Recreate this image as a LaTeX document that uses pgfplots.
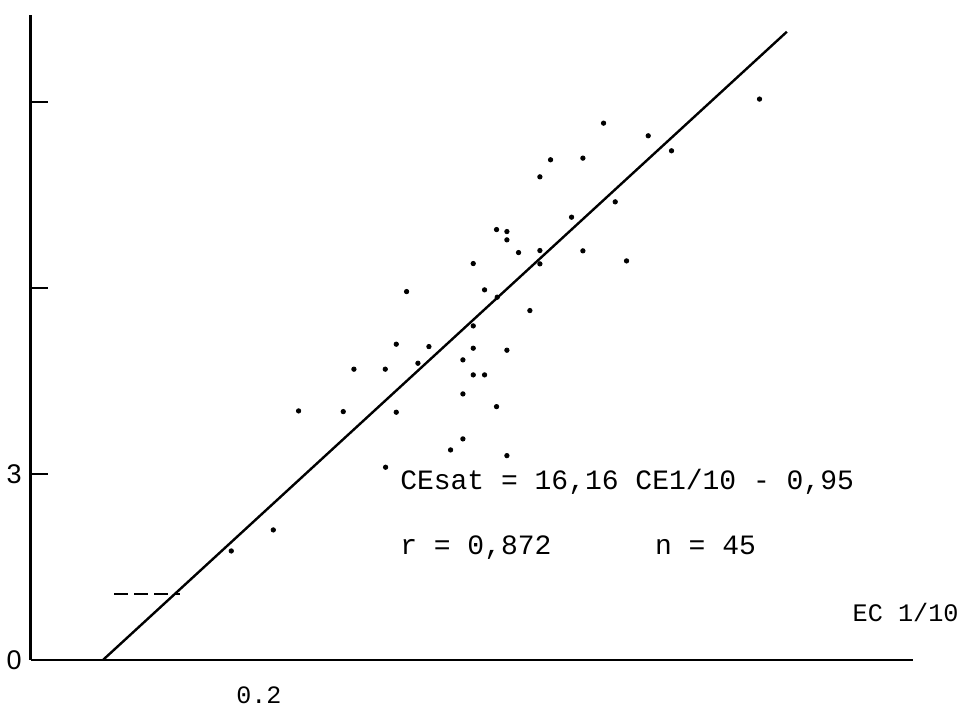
\documentclass[border=0pt]{standalone}
\usepackage{fontspec}
\setmainfont{Liberation Sans}
\setmonofont{Liberation Mono}
\usepackage{pgfplots}
\pgfplotsset{compat=1.18}

% scatter points (EC 1/10 vs CEsat)
\pgfplotstableread{
x      y
0.5188 8.656
0.4706 8.065
0.5000 8.092
0.4609 7.790
0.5294 7.387
0.4897 7.140
0.4215 6.940
0.4309 6.908
0.4309 6.774
0.4415 6.569
0.4609 6.602
0.4609 6.387
0.5000 6.597
0.5397 6.435
0.4003 6.392
0.4106 5.968
0.3397 5.940
0.6606 9.044
0.5594 8.452
0.5806 8.210
0.4221 5.850
0.4518 5.634
0.4003 5.387
0.3303 5.092
0.3600 5.053
0.4003 5.027
0.4309 4.995
0.3909 4.839
0.2918 4.689
0.3203 4.689
0.3500 4.785
0.4003 4.597
0.4106 4.597
0.3909 4.290
0.4215 4.085
0.2415 4.016
0.2821 4.005
0.3303 3.995
0.3909 3.565
0.3797 3.387
0.4309 3.295
0.3206 3.108
0.1803 1.758
0.2185 2.097
}\pts

\begin{document}
\begin{tikzpicture}
  % page = 969x710 px at 0.5pt/px, axis corner at (33px,660px)
  \useasboundingbox (-16.5pt,-25pt) rectangle (468pt,330pt);
  \begin{axis}[
      at={(0,0)}, anchor=origin,
      scale only axis,
      width=441pt, height=322.5pt,
      xmin=-0.002, xmax=0.8,
      ymin=0, ymax=10.4,
      axis x line=bottom,
      axis y line=left,
      axis line style={-},
      x axis line style={line width=1pt},
      y axis line style={line width=1.5pt},
      tick align=inside,
      major tick length=8.5pt,
      ytick={0,3,6,9},
      yticklabels={0,3,,},
      y tick style={line width=0.8pt, black},
      yticklabel style={font=\fontsize{13.5}{15}\selectfont, xshift=-1pt},
      xtick={0.2},
      xticklabels={0.2},
      x tick style={draw=none},
      xticklabel style={font=\ttfamily\fontsize{12.5}{14}\selectfont, yshift=-10pt, xshift=3pt},
      clip=false,
    ]
    \addplot[only marks, mark=*, mark size=1.1pt, black] table {\pts};
    % fitted line, end points
    \addplot[black, line width=1.2pt] coordinates {(0.0636,0) (0.6855,10.13)};
    \addplot[black, line width=0.8pt, dash pattern=on 7pt off 3pt] coordinates {(0.074,1.065) (0.134,1.065)};
    \node[anchor=west, font=\ttfamily\fontsize{14}{16}\selectfont, inner sep=0pt]
      at (axis cs:0.3336,2.87) {CEsat = 16,16 CE1/10 - 0,95};
    \node[anchor=west, font=\ttfamily\fontsize{14}{16}\selectfont, inner sep=0pt]
      at (axis cs:0.3336,1.81) {r = 0,872\hspace{3.7em}n = 45};
    \node[anchor=west, font=\ttfamily\fontsize{12.6}{15}\selectfont, inner sep=0pt]
      at (axis cs:0.745,0.77) {EC 1/10};
  \end{axis}
\end{tikzpicture}
\end{document}
